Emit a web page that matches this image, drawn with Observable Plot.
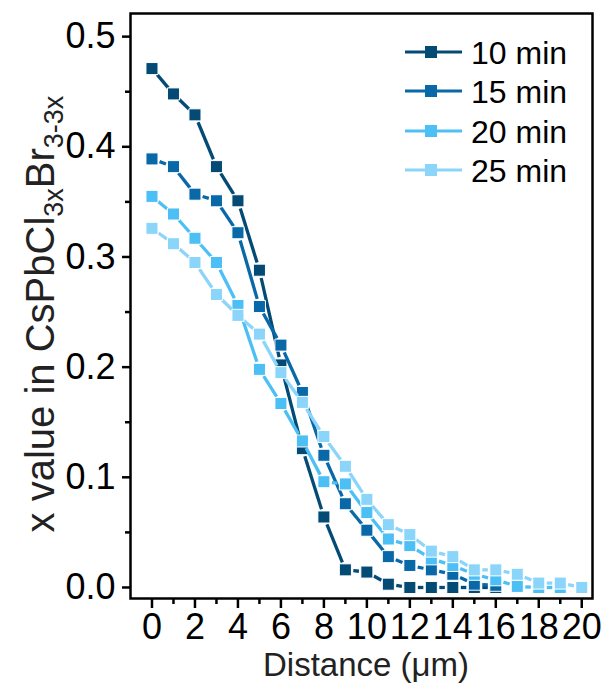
<!DOCTYPE html>
<html>
<head>
<meta charset="utf-8">
<script src="https://cdn.jsdelivr.net/npm/d3@7"></script>
<script src="https://cdn.jsdelivr.net/npm/@observablehq/plot@0.6"></script>
<style>
  html, body { margin: 0; padding: 0; background: white; }
  #chart svg { display: block; }
</style>
</head>
<body>
<div id="chart"></div>
<script>
// ---- data ----
const distance = [0, 1, 2, 3, 4, 5, 6, 7, 8, 9, 10, 11, 12, 13, 14, 15, 16, 17, 18, 19, 20];
const seriesNames = ["10 min", "15 min", "20 min", "25 min"];
const seriesColors = ["#034a74", "#0868a8", "#4cbff5", "#8cd5fa"];
const min10 = [0.471, 0.448, 0.429, 0.382, 0.351, 0.288, 0.202, 0.126, 0.064, 0.016, 0.014, 0.003, 0.000, 0.000, 0.000, 0.000, 0.000];
const min15 = [0.389, 0.382, 0.357, 0.351, 0.322, 0.255, 0.220, 0.177, 0.120, 0.076, 0.052, 0.028, 0.020, 0.016, 0.012, 0.003, 0.002];
const min20 = [0.355, 0.339, 0.317, 0.295, 0.256, 0.198, 0.167, 0.133, 0.096, 0.094, 0.068, 0.044, 0.038, 0.026, 0.020, 0.012, 0.007, 0.001, 0.000, 0.000];
const min25 = [0.326, 0.312, 0.295, 0.266, 0.247, 0.230, 0.195, 0.168, 0.137, 0.110, 0.080, 0.057, 0.048, 0.033, 0.028, 0.016, 0.016, 0.012, 0.004, 0.004, 0.000];
const yMajorTicks = [0, 0.1, 0.2, 0.3, 0.4, 0.5];
const yMinorTicks = [0.05, 0.15, 0.25, 0.35, 0.45];
const xMajorTicks = [0, 2, 4, 6, 8, 10, 12, 14, 16, 18, 20];
const xMinorTicks = [1, 3, 5, 7, 9, 11, 13, 15, 17, 19];
const xTitle = "Distance (μm)";

// ---- build tables ----
const seriesValues = [min10, min15, min20, min25];
const points = [];
const segments = [];
seriesNames.forEach((name, s) => {
  const vals = seriesValues[s];
  vals.forEach((v, i) => points.push({series: name, d: distance[i], v}));
  for (let i = 0; i + 1 < vals.length; i++) {
    segments.push({series: name, x1: distance[i], y1: vals[i], x2: distance[i + 1], y2: vals[i + 1]});
  }
});

const FONT = "'Liberation Sans', Arial, Helvetica, sans-serif";
const marks = [];
seriesNames.forEach(name => {
  marks.push(Plot.arrow(segments.filter(d => d.series === name), {
    x1: "x1", y1: "y1", x2: "x2", y2: "y2",
    stroke: "series", strokeWidth: 3.3, headLength: 0, inset: 8,
    strokeLinecap: "butt"
  }));
  marks.push(Plot.dot(points.filter(d => d.series === name), {
    x: "d", y: "v", symbol: "square", r: 6.8,
    fill: "series", stroke: "white", strokeWidth: 1
  }));
});

const chart = Plot.plot({
  width: 604,
  height: 687,
  marginLeft: 130,
  marginRight: 12,
  marginTop: 13,
  marginBottom: 89,
  style: {fontFamily: FONT, background: "white", color: "black"},
  x: {domain: [-1, 20.5], label: null},
  y: {domain: [-0.01, 0.521], label: null},
  color: {domain: seriesNames, range: seriesColors},
  marks: [
    ...marks,
    Plot.axisY(yMajorTicks, {tickSize: 8, tickPadding: 7, strokeWidth: 2.5, fontSize: 36, tickFormat: d3.format(".1f"), label: null}),
    Plot.axisY(yMinorTicks, {tickSize: 5, strokeWidth: 2.5, tickFormat: () => "", label: null}),
    Plot.axisX(xMajorTicks, {tickSize: 10, tickPadding: 5, strokeWidth: 2.5, fontSize: 36, label: null}),
    Plot.axisX(xMinorTicks, {tickSize: 6, strokeWidth: 2.5, tickFormat: () => "", label: null}),
    Plot.frame({stroke: "black", strokeWidth: 2.5})
  ]
});

document.getElementById("chart").appendChild(chart);

// ---- titles and legend ----
const svg = d3.select(chart);

svg.append("text")
  .attr("x", 366).attr("y", 676)
  .attr("text-anchor", "middle")
  .attr("font-family", FONT).attr("font-size", 33)
  .attr("fill", "#222")
  .text(xTitle);

const yt = svg.append("text")
  .attr("transform", "translate(54,314) rotate(-90)")
  .attr("text-anchor", "middle")
  .attr("font-family", FONT).attr("font-size", 40)
  .attr("fill", "#222");
yt.append("tspan").text("x value in CsPbCl");
yt.append("tspan").attr("font-size", 27).attr("dy", 9).text("3x");
yt.append("tspan").attr("dy", -9).text("Br");
yt.append("tspan").attr("font-size", 27).attr("dy", 9).text("3-3x");

const legendY = [52, 91, 131, 170];
seriesNames.forEach((name, i) => {
  const g = svg.append("g");
  g.append("line")
    .attr("x1", 405).attr("x2", 462)
    .attr("y1", legendY[i]).attr("y2", legendY[i])
    .attr("stroke", seriesColors[i]).attr("stroke-width", 3);
  g.append("rect")
    .attr("x", 431 - 6).attr("y", legendY[i] - 6)
    .attr("width", 12).attr("height", 12)
    .attr("fill", seriesColors[i]);
  g.append("text")
    .attr("x", 471).attr("y", legendY[i])
    .attr("dy", "0.36em")
    .attr("text-anchor", "start")
    .attr("font-family", FONT).attr("font-size", 32)
    .attr("fill", "black")
    .text(name);
});
</script>
</body>
</html>
